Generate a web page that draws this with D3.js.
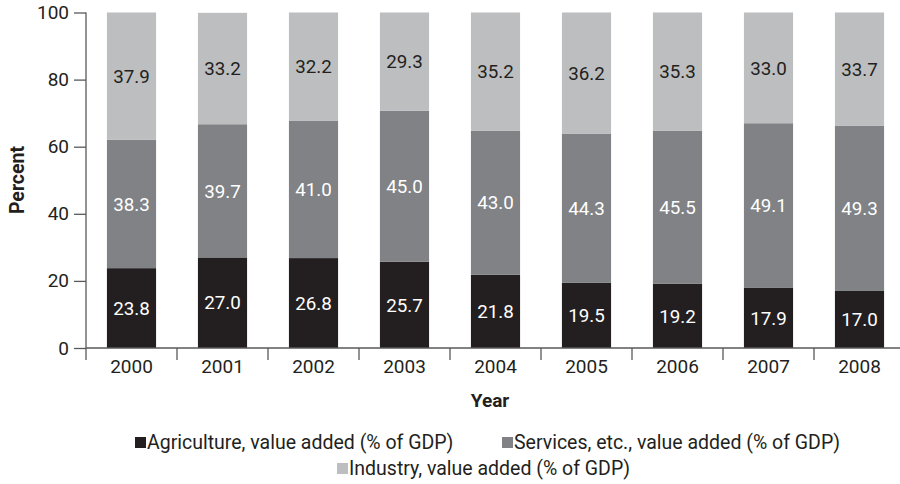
<!DOCTYPE html>
<html>
<head>
<meta charset="utf-8">
<script src="https://cdn.jsdelivr.net/npm/d3@7/dist/d3.min.js"></script>
<style>
  html, body { margin: 0; padding: 0; background: #fff; }
  svg { display: block; }
  text { font-family: Roboto, "Open Sans", sans-serif; fill: #231f20; }
</style>
</head>
<body>
<svg id="chart" width="900" height="484"></svg>
<script>
// GDP composition by sector, share of GDP (%)
const years = ["2000", "2001", "2002", "2003", "2004", "2005", "2006", "2007", "2008"];
const agriculture = [23.8, 27.0, 26.8, 25.7, 21.8, 19.5, 19.2, 17.9, 17.0];
const services = [38.3, 39.7, 41.0, 45.0, 43.0, 44.3, 45.5, 49.1, 49.3];
const industry = [37.9, 33.2, 32.2, 29.3, 35.2, 36.2, 35.3, 33.0, 33.7];
const yTicks = [0, 20, 40, 60, 80, 100];

const seriesNames = [
  "Agriculture, value added (% of GDP)",
  "Services, etc., value added (% of GDP)",
  "Industry, value added (% of GDP)"
];
const seriesKeys = ["agriculture", "services", "industry"];
const colors = ["#231f20", "#808285", "#bcbec0"];
const labelColors = ["#ffffff", "#ffffff", "#231f20"];

const rows = years.map((yr, i) => ({
  year: yr,
  agriculture: agriculture[i],
  services: services[i],
  industry: industry[i]
}));

const FONT = "Roboto, 'Open Sans', sans-serif";
const svg = d3.select("#chart");
const plotLeft = 86, plotRight = 905, plotBottom = 348, plotTop = 12.5;
const axisColor = "#58595b";

const x = d3.scaleBand().domain(years).range([plotLeft, plotRight]).paddingInner(0.46).paddingOuter(0.23);
const y = d3.scaleLinear().domain([0, 100]).range([plotBottom, plotTop]);

const stacked = d3.stack().keys(seriesKeys)(rows);

// stacked bars
const layers = svg.append("g").selectAll("g")
  .data(stacked).join("g")
  .attr("fill", (d, i) => colors[i]);

layers.selectAll("rect")
  .data(d => d)
  .join("rect")
  .attr("x", d => x(d.data.year))
  .attr("width", x.bandwidth())
  .attr("y", d => y(d[1]))
  .attr("height", d => y(d[0]) - y(d[1]));

// value labels centered in each segment
const labels = svg.append("g");
stacked.forEach((layer, si) => {
  labels.append("g").selectAll("text")
    .data(layer)
    .join("text")
    .attr("x", d => x(d.data.year) + x.bandwidth() / 2)
    .attr("y", d => (y(d[0]) + y(d[1])) / 2)
    .attr("dy", "0.36em")
    .attr("text-anchor", "middle")
    .style("font-size", "18.8px")
    .style("fill", labelColors[si])
    .text(d => d3.format(".1f")(d[1] - d[0]));
});

// y axis
const yAxis = svg.append("g")
  .attr("transform", `translate(${plotLeft},0)`)
  .call(d3.axisLeft(y).tickValues(yTicks).tickSize(12).tickPadding(5).tickSizeOuter(0));
yAxis.select(".domain").remove();
yAxis.append("line")
  .attr("x1", 0).attr("x2", 0)
  .attr("y1", y(100)).attr("y2", plotBottom + 12)
  .attr("stroke", axisColor).attr("stroke-width", 1.3);
yAxis.selectAll(".tick line").attr("stroke", axisColor).attr("stroke-width", 1.3);
yAxis.selectAll(".tick text").style("font-size", "19px").style("fill", "#231f20")
  .style("font-family", FONT);

// x axis: baseline plus boundary ticks between categories
const xAxis = svg.append("g");
xAxis.append("line")
  .attr("x1", plotLeft).attr("x2", plotRight)
  .attr("y1", plotBottom).attr("y2", plotBottom)
  .attr("stroke", axisColor).attr("stroke-width", 1.3);
const step = x.step();
const boundaries = years.map(yr => x(yr) - x.paddingInner() * step / 2);
xAxis.selectAll("line.bt")
  .data(boundaries.slice(1))
  .join("line")
  .attr("class", "bt")
  .attr("x1", d => d).attr("x2", d => d)
  .attr("y1", plotBottom).attr("y2", plotBottom + 12)
  .attr("stroke", axisColor).attr("stroke-width", 1.3);
xAxis.selectAll("text")
  .data(years)
  .join("text")
  .attr("x", d => x(d) + x.bandwidth() / 2)
  .attr("y", plotBottom + 18)
  .attr("dy", "0.36em")
  .attr("text-anchor", "middle")
  .style("font-size", "19px")
  .text(d => d);

// axis titles
svg.append("text")
  .attr("x", 490).attr("y", 400)
  .attr("dy", "0.36em")
  .attr("text-anchor", "middle")
  .style("font-size", "19px").style("font-weight", "bold")
  .text("Year");

svg.append("text")
  .attr("transform", "translate(17,180) rotate(-90)")
  .attr("dy", "0.36em")
  .attr("text-anchor", "middle")
  .style("font-size", "19.5px").style("font-weight", "bold")
  .text("Percent");

// legend
const legendItems = [
  { i: 0, x: 135, y: 442 },
  { i: 1, x: 502, y: 442 },
  { i: 2, x: 337, y: 468 }
];
const legend = svg.append("g");
legendItems.forEach(it => {
  const g = legend.append("g").attr("transform", `translate(${it.x},${it.y})`);
  g.append("rect").attr("x", 0).attr("y", -5).attr("width", 11).attr("height", 11).attr("fill", colors[it.i]);
  g.append("text").attr("x", 12).attr("y", 0).attr("dy", "0.36em")
    .style("font-size", "19.5px").text(seriesNames[it.i]);
});
</script>
</body>
</html>
